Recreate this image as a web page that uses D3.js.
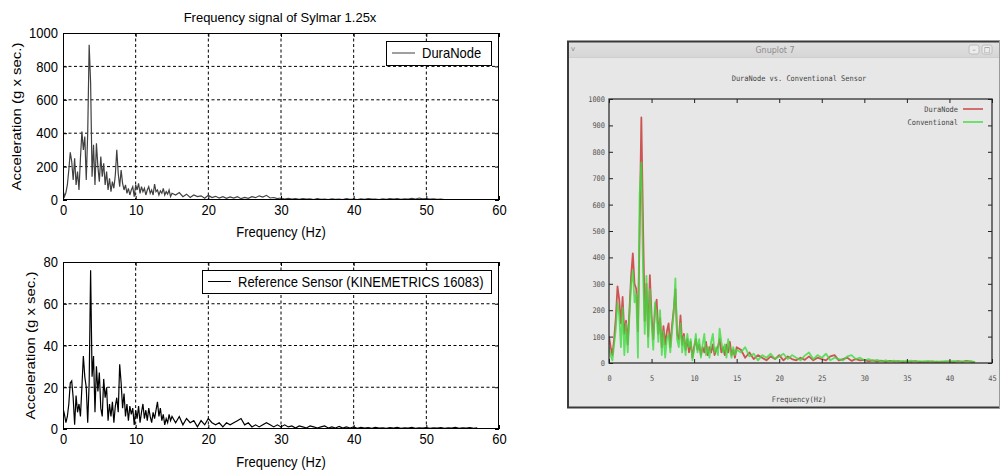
<!DOCTYPE html>
<html>
<head>
<meta charset="utf-8">
<script src="https://cdn.jsdelivr.net/npm/d3@7"></script>
<style>
  body { margin: 0; background: #fff; }
  svg { display: block; }
</style>
</head>
<body>
<script>
// Spectra sampled every 0.2 Hz up to 15 Hz, then every 0.5 Hz from 15.5 Hz on
const fineStep = 0.2;
const coarseStart = 15.5;
const coarseStep = 0.5;

// DuraNode, MATLAB plot (g x sec.)
const duraLow = [60,20,45,90,180,285,230,120,250,90, 170,60,250,410,300,380,120,400,930,700,
  140,330,90,340,200,110,260,140,220,90, 170,60,130,50,110,70,150,300,160,80,
  180,100,60,90,40,70,30,60,80,20, 90,60,100,40,80,50,70,30,60,80,
  40,60,30,95,50,60,30,55,40,70, 30,50,35,60,20,40];
const duraHigh = [30,45,20,35,15,30,20,25,10,28, 15,22,12,20,10,18,12,20,8,16,
  10,20,14,25,18,28,12,15,8,12, 6,10,5,8,4,9,5,7,3,8,
  4,6,3,7,4,6,3,8,4,6, 3,7,4,8,5,6,3,7,4,8,
  5,9,4,7,5,10,6,12,7,9, 5,7,4,5,3];

// Reference sensor (KINEMETRICS 16083), MATLAB plot
const refLow = [10,7,3,6,12,22,23,15,2,16, 8,12,6,20,35,25,20,3,22,76,
  25,35,8,30,18,27,10,6,24,15, 20,4,12,6,13,3,11,15,8,31,
  22,10,17,6,12,4,11,7,10,2, 9,5,11,3,8,12,5,9,4,10,
  6,3,8,5,9,13,6,10,4,7, 2,5,3,7,4,6];
const refHigh = [3,6,2,5,3,4,1,4,2,5, 3,2,3,1,3,2,3,4,5,2,
  3,1,2,1,2,3,2,1,2,1, 2,1,1.5,0.5,1.5,1,0.5,1.5,1,0.5,
  1,1.5,0.5,1,0.5,1.2,0.4,1,0.5,1, 0.3,0.8,0.4,0.7,0.3,0.8,0.4,0.6,0.3,0.7,
  0.4,0.8,0.3,0.6,0.4,0.8,0.3,0.6,0.4,0.7, 0.3,0.6,0.4,0.7,0.3,0.6,0.4,0.8,0.3,0.6,
  0.4,0.7,0.3,0.5];

// Gnuplot window: DuraNode (red) and Conventional (green)
const gnuRedLow = [100,60,30,90,170,290,240,150,250,110, 160,70,200,330,415,300,280,120,500,930,
  520,160,300,100,333,180,90,200,240,110, 170,60,140,70,120,150,60,140,200,280,
  110,90,180,70,110,50,90,40,80,20, 60,90,50,70,30,60,40,80,30,60,
  40,70,30,50,60,90,40,60,30,70, 40,80,30,50,20,60];
const gnuRedHigh = [50,20,40,15,30,20,10,25,15,30, 10,25,15,10,20,12,25,10,20,15,
  10,25,30,10,15,20,8,15,10,12, 6,10,5,9,4,8,5,7,3,6,
  4,7,3,5,4,6,3,5,4,6, 3,7,4,8,5,2];
const gnuGreenLow = [60,30,10,70,130,230,180,60,210,30, 150,40,180,300,350,230,260,20,640,760,
  350,110,330,60,280,150,50,230,180,80, 200,30,120,20,90,110,40,120,190,320,
  90,60,150,40,100,30,110,60,90,10, 50,110,40,90,20,70,110,30,60,20,
  80,110,40,60,30,130,80,40,70,20, 90,50,20,60,30,50];
const gnuGreenHigh = [40,60,25,35,10,30,20,35,15,25, 35,15,30,20,10,28,40,15,30,20,
  35,10,20,15,10,25,30,15,20,10, 15,8,12,6,10,5,9,4,8,5,
  9,4,7,5,8,3,6,4,7,5, 8,4,6,5,7,3];

// Tick values
const matlabXTicks = [0, 10, 20, 30, 40, 50, 60];
const topYTicks = [0, 200, 400, 600, 800, 1000];
const bottomYTicks = [0, 20, 40, 60, 80];
const gnuXTicks = [0, 5, 10, 15, 20, 25, 30, 35, 40, 45];
const gnuYTicks = [0, 100, 200, 300, 400, 500, 600, 700, 800, 900, 1000];

// join the two sampling segments into {f, v} points
function spectrum(low, high) {
  const a = low.map((v, i) => ({ f: +(i * fineStep).toFixed(2), v }));
  const b = high.map((v, i) => ({ f: coarseStart + i * coarseStep, v }));
  return a.concat(b);
}

const W = 1001, H = 470;
const matlabFont = "'Liberation Sans', Arial, sans-serif";
const gnuFont = "'DejaVu Sans Mono', monospace";
const SY = 1.15; // text in the picture is a bit taller than wide
const plain = d3.format("d");

const svg = d3.select("body").append("svg")
  .attr("width", W).attr("height", H)
  .attr("viewBox", `0 0 ${W} ${H}`);

function label(sel, x, y, str, { size = 13, anchor = "middle", sy = SY, rotate = 0, family = matlabFont, fill = "#000" } = {}) {
  return sel.append("text")
    .attr("transform", `translate(${x},${y}) scale(1,${sy})` + (rotate ? ` rotate(${rotate})` : ""))
    .attr("text-anchor", anchor)
    .attr("dominant-baseline", "central")
    .attr("font-family", family)
    .attr("font-size", size)
    .attr("fill", fill)
    .text(str);
}

// ---------- MATLAB style panels ----------
function matlabPanel({ id, top, bottom, yTicks, data, color, legendText, legendBox, ylabelX, xlabelY }) {
  const left = 63, right = 499;
  const x = d3.scaleLinear().domain([0, 60]).range([left, right]);
  const y = d3.scaleLinear().domain([0, d3.max(yTicks)]).range([bottom, top]);
  const g = svg.append("g");

  g.append("rect").attr("x", left).attr("y", top)
    .attr("width", right - left).attr("height", bottom - top).attr("fill", "#fff");

  // dashed grid
  g.append("g").selectAll("line")
    .data(matlabXTicks.slice(1, -1)).join("line")
    .attr("x1", d => x(d)).attr("x2", d => x(d))
    .attr("y1", top).attr("y2", bottom)
    .attr("stroke", "#000").attr("stroke-dasharray", "3,2.5");
  g.append("g").selectAll("line")
    .data(yTicks.slice(1, -1)).join("line")
    .attr("x1", left).attr("x2", right)
    .attr("y1", d => y(d)).attr("y2", d => y(d))
    .attr("stroke", "#000").attr("stroke-dasharray", "3,2.5");

  // data
  g.append("clipPath").attr("id", id).append("rect")
    .attr("x", left).attr("y", top).attr("width", right - left).attr("height", bottom - top);
  g.append("path")
    .datum(data)
    .attr("clip-path", `url(#${id})`)
    .attr("fill", "none")
    .attr("stroke", color)
    .attr("stroke-width", 1.2)
    .attr("d", d3.line().x(d => x(d.f)).y(d => y(d.v)));

  // axes with inward ticks on all sides
  const ax = (axis, tx, ty) => g.append("g")
    .attr("transform", `translate(${tx},${ty})`)
    .call(axis)
    .call(s => s.select(".domain").remove())
    .call(s => s.selectAll("text")
      .attr("font-family", matlabFont).attr("font-size", 13).attr("fill", "#000")
      .attr("transform", `scale(1,${SY})`));
  ax(d3.axisBottom(x).tickValues(matlabXTicks).tickFormat(plain).tickSizeInner(-4).tickSizeOuter(0).tickPadding(4), 0, bottom);
  ax(d3.axisTop(x).tickValues(matlabXTicks).tickSizeInner(-4).tickSizeOuter(0).tickFormat(""), 0, top);
  ax(d3.axisLeft(y).tickValues(yTicks).tickFormat(plain).tickSizeInner(-4).tickSizeOuter(0).tickPadding(5), left, 0);
  ax(d3.axisRight(y).tickValues(yTicks).tickSizeInner(-4).tickSizeOuter(0).tickFormat(""), right, 0);

  g.append("rect").attr("x", left + 0.5).attr("y", top + 0.5)
    .attr("width", right - left - 1).attr("height", bottom - top - 1)
    .attr("fill", "none").attr("stroke", "#000");

  // legend
  const [lx0, ly0, lx1, ly1] = legendBox;
  const lg = g.append("g");
  lg.append("rect").attr("x", lx0 + 0.5).attr("y", ly0 + 0.5)
    .attr("width", lx1 - lx0).attr("height", ly1 - ly0)
    .attr("fill", "#fff").attr("stroke", "#000");
  const lyc = (ly0 + ly1) / 2;
  lg.append("line").attr("x1", lx0 + 6).attr("x2", lx0 + 29)
    .attr("y1", lyc).attr("y2", lyc).attr("stroke", color);
  label(lg, lx0 + 36, lyc, legendText, { anchor: "start" });

  label(g, (left + right) / 2, xlabelY, "Frequency (Hz)");
  label(g, ylabelX, (top + bottom) / 2, "Acceleration (g x sec.)", { rotate: -90 });
  return g;
}

const topPanel = matlabPanel({
  id: "clipTop", top: 33, bottom: 200, yTicks: topYTicks,
  data: spectrum(duraLow, duraHigh), color: "#404040",
  legendText: "DuraNode", legendBox: [386, 41, 491, 65],
  ylabelX: 16, xlabelY: 232
});
label(topPanel, 280, 17, "Frequency signal of Sylmar 1.25x", { sy: 1.05 });

matlabPanel({
  id: "clipBottom", top: 262, bottom: 429, yTicks: bottomYTicks,
  data: spectrum(refLow, refHigh), color: "#000",
  legendText: "Reference Sensor (KINEMETRICS 16083)", legendBox: [202, 270, 491, 293],
  ylabelX: 30, xlabelY: 462
});

// ---------- Gnuplot window ----------
const win = svg.append("g");
const wx0 = 567, wx1 = 1000, wy0 = 41, wy1 = 408;
const grad = svg.append("defs").append("linearGradient")
  .attr("id", "titlebar").attr("x1", 0).attr("x2", 0).attr("y1", 0).attr("y2", 1);
grad.append("stop").attr("offset", 0).attr("stop-color", "#e2e2e2");
grad.append("stop").attr("offset", 1).attr("stop-color", "#d6d6d6");

win.append("rect").attr("x", wx0).attr("y", wy0).attr("width", wx1 - wx0).attr("height", wy1 - wy0)
  .attr("fill", "#e7e7e7");
win.append("rect").attr("x", wx0).attr("y", wy0).attr("width", wx1 - wx0).attr("height", 16)
  .attr("fill", "url(#titlebar)");
win.append("line").attr("x1", wx0).attr("x2", wx1).attr("y1", wy0 + 16.5).attr("y2", wy0 + 16.5)
  .attr("stroke", "#cfcfcf");
label(win, 775, 50, "Gnuplot 7", { size: 8, sy: 1.1, family: "'DejaVu Sans', sans-serif", fill: "#8c8c8c" });
label(win, 573, 49, "v", { size: 7, sy: 1, family: "'DejaVu Sans', sans-serif", fill: "#8c8c8c" });
[[974, "\u2013"], [987, "\u25a1"]].forEach(([bx, s]) => {
  win.append("rect").attr("x", bx - 5).attr("y", 45).attr("width", 10).attr("height", 9).attr("rx", 2)
    .attr("fill", "#ececec").attr("stroke", "#b5b5b5").attr("stroke-width", 0.8);
  label(win, bx, 49.5, s, { size: 7, sy: 1, family: "'DejaVu Sans', sans-serif", fill: "#777" });
});
// window border: dark on top, left and bottom
win.append("path")
  .attr("d", `M${wx1},${wy0 + 0.5}H${wx0 + 1}V${wy1 - 0.5}H${wx1}`)
  .attr("fill", "none").attr("stroke", "#3a3a3a").attr("stroke-width", 2);
win.append("line").attr("x1", wx1 - 0.5).attr("x2", wx1 - 0.5).attr("y1", wy0).attr("y2", wy1)
  .attr("stroke", "#9a9a9a");

const gx = d3.scaleLinear().domain([0, 45]).range([609, 992]);
const gy = d3.scaleLinear().domain([0, 1000]).range([363, 99]);

win.append("clipPath").attr("id", "clipGnu").append("rect")
  .attr("x", 609).attr("y", 99).attr("width", 383).attr("height", 264);
const gline = d3.line().x(d => gx(d.f)).y(d => gy(d.v));
win.append("path").datum(spectrum(gnuRedLow, gnuRedHigh))
  .attr("clip-path", "url(#clipGnu)")
  .attr("fill", "none").attr("stroke", "#c93a3a").attr("stroke-width", 1.8)
  .attr("stroke-linejoin", "round").attr("opacity", 0.85)
  .attr("d", gline);
win.append("path").datum(spectrum(gnuGreenLow, gnuGreenHigh))
  .attr("clip-path", "url(#clipGnu)")
  .attr("fill", "none").attr("stroke", "#3ddc3d").attr("stroke-width", 1.8)
  .attr("stroke-linejoin", "round").attr("opacity", 0.8)
  .attr("d", gline);

const gax = (axis, tx, ty) => win.append("g")
  .attr("transform", `translate(${tx},${ty})`)
  .call(axis)
  .call(s => s.select(".domain").remove())
  .call(s => s.selectAll("line").attr("stroke", "#222"))
  .call(s => s.selectAll("text")
    .attr("font-family", gnuFont).attr("font-size", 7).attr("fill", "#555")
    .attr("transform", "scale(1,1.1)"));
gax(d3.axisBottom(gx).tickValues(gnuXTicks).tickFormat(plain).tickSizeInner(-4).tickSizeOuter(0).tickPadding(11), 0, 363);
gax(d3.axisTop(gx).tickValues(gnuXTicks).tickSizeInner(-4).tickSizeOuter(0).tickFormat(""), 0, 99);
gax(d3.axisLeft(gy).tickValues(gnuYTicks).tickFormat(plain).tickSizeInner(-4).tickSizeOuter(0).tickPadding(4), 609, 0);
gax(d3.axisRight(gy).tickValues(gnuYTicks).tickSizeInner(-4).tickSizeOuter(0).tickFormat(""), 992, 0);

win.append("rect").attr("x", 609).attr("y", 99).attr("width", 383).attr("height", 264)
  .attr("fill", "none").attr("stroke", "#222").attr("stroke-width", 1.2);

const gnuText = { size: 7, sy: 1.1, family: gnuFont, fill: "#444" };
label(win, 799, 78, "DuraNode vs. Conventional Sensor", gnuText);
label(win, 799, 399, "Frequency(Hz)", gnuText);
label(win, 958, 109, "DuraNode", { ...gnuText, anchor: "end" });
label(win, 958, 122, "Conventional", { ...gnuText, anchor: "end" });
win.append("line").attr("x1", 963).attr("x2", 983).attr("y1", 109).attr("y2", 109)
  .attr("stroke", "#c93a3a").attr("stroke-width", 1.4);
win.append("line").attr("x1", 963).attr("x2", 983).attr("y1", 122).attr("y2", 122)
  .attr("stroke", "#3ddc3d").attr("stroke-width", 1.4);
</script>
</body>
</html>
